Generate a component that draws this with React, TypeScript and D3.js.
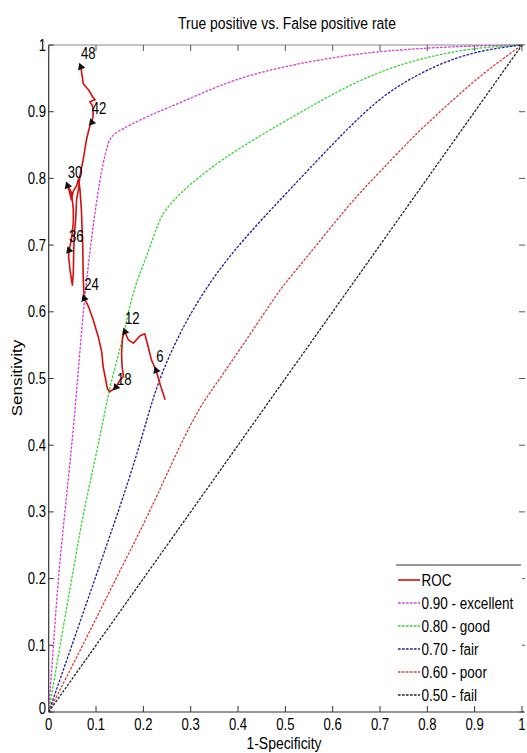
import React from 'react';
import * as d3 from 'd3';

// reference curves (1-specificity, sensitivity)
const fpr90 = [0, 0.01, 0.02, 0.034, 0.049, 0.059, 0.075, 0.092, 0.108, 0.122, 0.13, 0.145, 0.172, 0.214, 0.284, 0.355, 0.425, 0.495, 0.566, 0.636, 0.707, 0.85, 1];
const tpr90 = [0, 0.1, 0.2, 0.3, 0.4, 0.48, 0.62, 0.72, 0.8, 0.845, 0.862, 0.87, 0.88, 0.895, 0.915, 0.938, 0.955, 0.967, 0.977, 0.985, 0.991, 0.998, 1];

const fpr80 = [0, 0.024, 0.049, 0.073, 0.105, 0.126, 0.145, 0.161, 0.168, 0.185, 0.207, 0.232, 0.246, 0.284, 0.355, 0.425, 0.495, 0.566, 0.636, 0.707, 0.777, 0.883, 1];
const tpr80 = [0, 0.1, 0.2, 0.3, 0.4, 0.478, 0.53, 0.572, 0.6, 0.645, 0.683, 0.735, 0.753, 0.783, 0.823, 0.855, 0.884, 0.913, 0.94, 0.962, 0.978, 0.995, 1];

const fpr70 = [0, 0.049, 0.098, 0.147, 0.193, 0.224, 0.27, 0.33, 0.4, 0.489, 0.566, 0.636, 0.707, 0.777, 0.847, 0.92, 1];
const tpr70 = [0, 0.1, 0.2, 0.3, 0.4, 0.483, 0.56, 0.635, 0.7, 0.768, 0.826, 0.878, 0.925, 0.955, 0.978, 0.993, 1];

const fpr60 = [0, 0.072, 0.142, 0.214, 0.277, 0.32, 0.345, 0.42, 0.488, 0.506, 0.566, 0.643, 0.7, 0.777, 0.85, 0.918, 1];
const tpr60 = [0, 0.1, 0.2, 0.3, 0.4, 0.458, 0.483, 0.56, 0.633, 0.648, 0.7, 0.768, 0.81, 0.868, 0.915, 0.958, 1];

const fpr50 = [0, 1];
const tpr50 = [0, 1];

// measured ROC trajectory
const rocFpr = [0.246, 0.236, 0.227, 0.217, 0.21, 0.203, 0.193, 0.179, 0.168, 0.161, 0.156, 0.154, 0.155, 0.158, 0.151, 0.142, 0.129, 0.124, 0.115, 0.112, 0.105, 0.094, 0.084, 0.075, 0.073, 0.072, 0.069, 0.066, 0.063, 0.059, 0.052, 0.048, 0.044, 0.04, 0.048, 0.052, 0.052, 0.048, 0.043, 0.042, 0.045, 0.05, 0.052, 0.053, 0.054, 0.057, 0.059, 0.063, 0.066, 0.073, 0.08, 0.087, 0.091, 0.094, 0.093, 0.087, 0.098, 0.093, 0.084, 0.073, 0.07, 0.068];
const rocTpr = [0.468, 0.49, 0.512, 0.528, 0.548, 0.567, 0.564, 0.553, 0.558, 0.57, 0.562, 0.537, 0.518, 0.503, 0.498, 0.487, 0.48, 0.485, 0.518, 0.54, 0.562, 0.588, 0.608, 0.62, 0.648, 0.698, 0.754, 0.784, 0.799, 0.789, 0.781, 0.768, 0.78, 0.789, 0.779, 0.754, 0.734, 0.708, 0.692, 0.683, 0.663, 0.64, 0.658, 0.694, 0.715, 0.738, 0.769, 0.784, 0.804, 0.829, 0.859, 0.879, 0.884, 0.895, 0.908, 0.915, 0.918, 0.922, 0.933, 0.942, 0.957, 0.967];

const markerLabels = ['6', '12', '18', '24', '30', '36', '42', '48'];
const markerFpr = [0.227, 0.161, 0.142, 0.075, 0.04, 0.043, 0.091, 0.068];
const markerTpr = [0.512, 0.57, 0.487, 0.62, 0.789, 0.692, 0.884, 0.967];

const tickValues = [0, 0.1, 0.2, 0.3, 0.4, 0.5, 0.6, 0.7, 0.8, 0.9, 1];
const legendLabels = ['ROC', '0.90 - excellent', '0.80 - good', '0.70 - fair', '0.60 - poor', '0.50 - fail'];

const FONT = '"Liberation Sans", Arial, sans-serif';
const SQ = 0.82; // text in the source is narrow

const T = ({ x, y, size, anchor = 'start', rotate = 0, children }: any) => (
  <g transform={`translate(${x},${y}) scale(${SQ},1)${rotate ? ` rotate(${rotate})` : ''}`}>
    <text fontFamily={FONT} fontSize={size} textAnchor={anchor} fill="#000">{children}</text>
  </g>
);

const App = () => {
  const width = 527;
  const height = 753;
  const x = d3.scaleLinear().domain([0, 1]).range([48.7, 522]);
  const y = d3.scaleLinear().domain([0, 1]).range([712, 45]);

  const line = d3.line<[number, number]>().x((d) => x(d[0])).y((d) => y(d[1]));
  const smooth = d3.line<[number, number]>().x((d) => x(d[0])).y((d) => y(d[1])).curve(d3.curveBasis);
  const zip = (a: number[], b: number[]) => a.map((v, i) => [v, b[i]] as [number, number]);

  const refs = [
    { f: fpr90, t: tpr90, color: '#d23cd2' },
    { f: fpr80, t: tpr80, color: '#33d633' },
    { f: fpr70, t: tpr70, color: '#1c1c9c' },
    { f: fpr60, t: tpr60, color: '#d63a3a' },
    { f: fpr50, t: tpr50, color: '#222' },
  ];
  const rocColor = '#d40f0f';
  const dash = '2.6,1.4';
  const tri = d3.symbol().type(d3.symbolTriangle).size(26)();

  return (
    <svg width={width} height={height} style={{ position: 'absolute', left: 0, top: 0, background: '#fff' }}>
      <rect width={width} height={height} fill="#fff" />
      <T x={287} y={29} size={17} anchor="middle">True positive vs. False positive rate</T>

      {/* frame */}
      <line x1={x(0)} x2={x(1)} y1={y(1)} y2={y(1)} stroke="#8a8a8a" strokeWidth={1.2} />
      <line x1={x(0)} x2={x(0)} y1={y(0)} y2={y(1)} stroke="#333" strokeWidth={1.2} />
      <line x1={x(0)} x2={x(1) + 2} y1={y(0)} y2={y(0)} stroke="#333" strokeWidth={1.2} />

      {tickValues.map((v) => (
        <g key={'t' + v}>
          <line x1={x(v)} x2={x(v)} y1={y(0)} y2={y(0) - 6} stroke="#333" />
          <line x1={x(v)} x2={x(v)} y1={y(1)} y2={y(1) + 6} stroke="#555" />
          <line x1={x(0)} x2={x(0) + 5} y1={y(v)} y2={y(v)} stroke="#333" />
          <line x1={x(1) - 3} x2={x(1) + 3} y1={y(v)} y2={y(v)} stroke="#555" />
          <T x={x(v)} y={730} size={16} anchor="middle">{String(v)}</T>
          <T x={46} y={v === 0 ? y(v) + 2 : y(v) + 5.5} size={16} anchor="end">{String(v)}</T>
        </g>
      ))}

      {/* reference curves */}
      {refs.map((r, i) => (
        <path key={'r' + i} d={smooth(zip(r.f, r.t)) || ''} fill="none" stroke={r.color} strokeWidth={1.3} strokeDasharray={dash} />
      ))}

      {/* ROC */}
      <path d={line(zip(rocFpr, rocTpr)) || ''} fill="none" stroke={rocColor} strokeWidth={1.6} strokeLinejoin="round" />
      {markerLabels.map((lab, i) => (
        <g key={'m' + lab}>
          <path d={tri || ''} transform={`translate(${x(markerFpr[i])},${y(markerTpr[i])}) rotate(-20)`} fill="#111" />
          <T x={x(markerFpr[i]) + (lab === '18' ? 1 : 0)} y={y(markerTpr[i]) - (lab === '18' ? 2 : 8)} size={16}>{lab}</T>
        </g>
      ))}

      {/* legend */}
      <rect x={396} y={565} width={126} height={140} fill="#fff" />
      <line x1={396} x2={521} y1={565} y2={565} stroke="#777" strokeWidth={1.4} />
      {legendLabels.map((lab, i) => {
        const ly = 580 + i * 23;
        const color = i === 0 ? rocColor : refs[i - 1].color;
        return (
          <g key={'l' + i}>
            <line x1={398} x2={420} y1={ly} y2={ly} stroke={color} strokeWidth={i === 0 ? 1.6 : 1.3} strokeDasharray={i === 0 ? undefined : dash} />
            <T x={421.5} y={ly + 6} size={16.5}>{lab}</T>
          </g>
        );
      })}

      <T x={284} y={749} size={17} anchor="middle">1-Specificity</T>
      <T x={22} y={378} size={17} anchor="middle" rotate={-90}>Sensitivity</T>
    </svg>
  );
};

export default App;
